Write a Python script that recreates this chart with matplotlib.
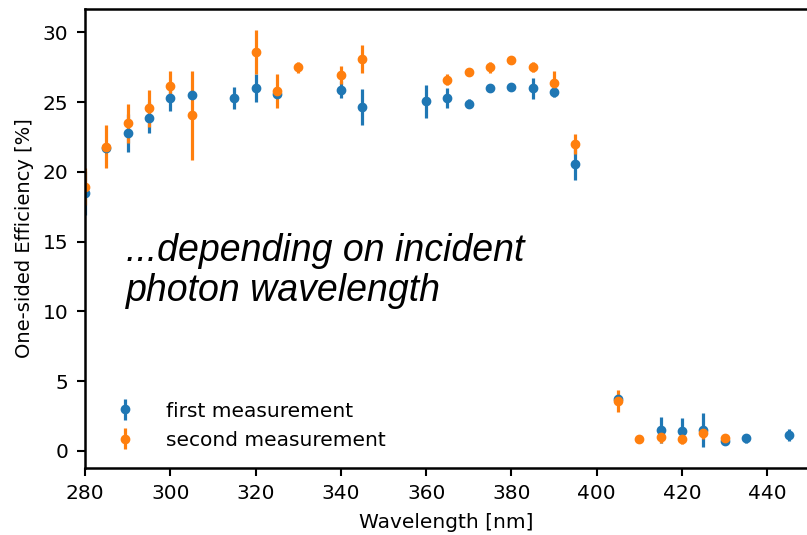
import matplotlib.pyplot as plt

# first measurement
wl_first = [280, 285, 290, 295, 300, 305, 315, 320, 325, 340, 345, 360, 365,
            370, 375, 380, 385, 390, 395, 405, 415, 420, 425, 430, 435, 445]
eff_first = [18.5, 21.7, 22.8, 23.9, 25.3, 25.55, 25.3, 26.0, 25.6, 25.9, 24.65, 25.05, 25.3,
             24.9, 26.0, 26.1, 26.0, 25.75, 20.6, 3.75, 1.5, 1.46, 1.5, 0.74, 0.9, 1.15]
err_first = [1.6, 0.3, 1.35, 1.1, 0.9, 0.3, 0.8, 1.0, 0.2, 0.6, 1.3, 1.2, 0.7,
             0.35, 0.3, 0.2, 0.75, 0.4, 1.2, 0.3, 0.9, 0.9, 1.25, 0.3, 0.35, 0.45]

# second measurement
wl_second = [280, 285, 290, 295, 300, 305, 320, 325, 330, 340, 345, 365,
             370, 375, 380, 385, 390, 395, 405, 410, 415, 420, 425, 430]
eff_second = [18.95, 21.8, 23.5, 24.55, 26.15, 24.05, 28.6, 25.8, 27.5, 26.95, 28.1, 26.6,
              27.15, 27.5, 28.0, 27.5, 26.35, 22.0, 3.6, 0.86, 0.98, 0.88, 1.27, 0.93]
err_second = [1.3, 1.55, 1.4, 1.3, 1.05, 3.2, 1.6, 1.2, 0.4, 0.65, 1.0, 0.4,
              0.2, 0.4, 0.2, 0.35, 0.9, 0.7, 0.8, 0.1, 0.4, 0.35, 0.4, 0.2]

fig = plt.figure(figsize=(8.07, 5.35), dpi=100)
ax = fig.add_axes([85 / 807, 1 - 467.7 / 535, 1 - 85 / 807, (467.7 - 8.7) / 535])

ax.errorbar(wl_first, eff_first, yerr=err_first, fmt="o", color="#1f77b4",
            markersize=6, elinewidth=2.3, capsize=0, label="first measurement")
ax.errorbar(wl_second, eff_second, yerr=err_second, fmt="o", color="#ff7f0e",
            markersize=6, elinewidth=2.3, capsize=0, label="second measurement")

ax.set_xlim(280, 449.3)
ax.set_ylim(-1.2, 31.7)
ax.set_xticks([280, 300, 320, 340, 360, 380, 400, 420, 440])
ax.set_yticks([0, 5, 10, 15, 20, 25, 30])

ax.set_xlabel("Wavelength [nm]", fontsize=14.5, labelpad=7)
ax.set_ylabel("One-sided Efficiency [%]", fontsize=14, labelpad=6)
ax.tick_params(labelsize=14.5, width=1.5, length=5.5, pad=6.5)
for s in ["left", "bottom", "top"]:
    ax.spines[s].set_linewidth(1.8)
ax.spines["right"].set_visible(False)

ax.text(289.7, 12.9, "...depending on incident\nphoton wavelength",
        fontsize=27, style="italic", family="Liberation Sans",
        linespacing=1.16, va="center", ha="left")

ax.legend(loc="lower left", bbox_to_anchor=(0.003, 0.0), frameon=False,
          fontsize=14.5, handletextpad=1.0, labelspacing=0.5)

plt.savefig("out.png", dpi=100)
